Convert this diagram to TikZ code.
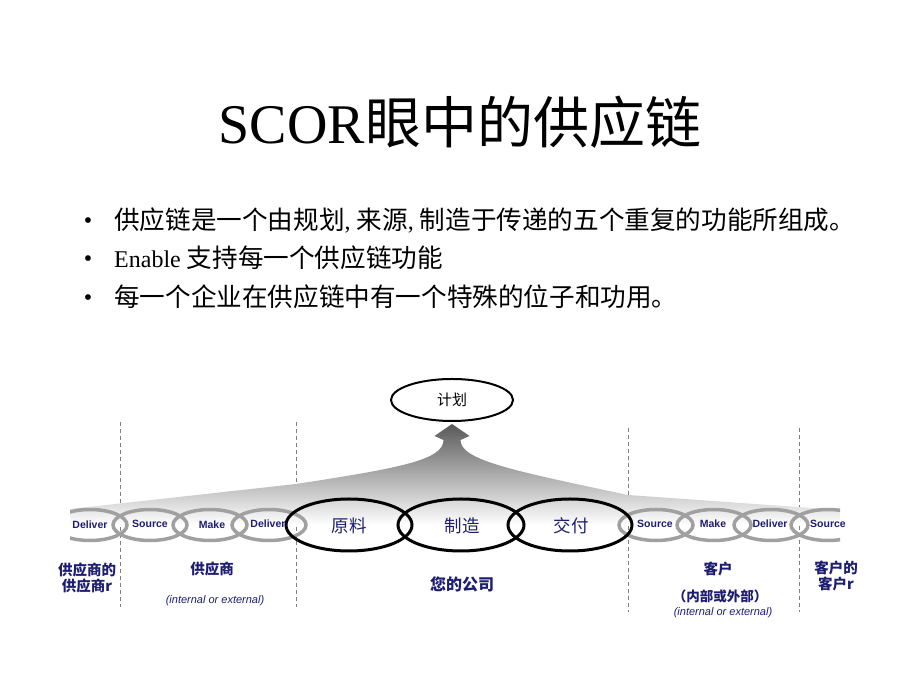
\documentclass[tikz,border=0pt]{standalone}
\usepackage{fontspec}
\setmainfont{Liberation Serif}
\setsansfont{Liberation Sans}
\newfontfamily\cjk{Noto Sans CJK SC}
\definecolor{scornavy}{RGB}{30,30,112}
\definecolor{linkgray}{RGB}{160,160,160}
\tikzset{
  bullettext/.style={anchor=west, inner sep=0pt, font=\fontsize{24}{26}\selectfont},
  bulletdot/.style={inner sep=0pt, font=\fontsize{24}{26}\selectfont},
  ringtext/.style={inner sep=0pt, text=scornavy, font=\sffamily\bfseries\fontsize{10.5}{12}\selectfont},
  coretext/.style={inner sep=0pt, text=scornavy, font=\cjk\fontsize{17.5}{20}\selectfont},
  partytext/.style={inner sep=0pt, align=center, text=scornavy, font=\cjk\bfseries\fontsize{14.5}{16.5}\selectfont},
  extnote/.style={inner sep=0pt, text=scornavy, font=\sffamily\itshape\fontsize{11}{13}\selectfont},
  graylink/.style={draw=linkgray, line width=3.5pt},
  corelink/.style={draw=black, line width=3pt},
  border/.style={draw=gray, line width=0.8pt, dash pattern=on 4pt off 3pt}
}
\newcommand\zh[1]{{\cjk\fontsize{25.6}{28}\selectfont #1}}
\begin{document}
\begin{tikzpicture}[x=1pt, y=1pt]
\useasboundingbox (0,0) rectangle (920,690);
\fill[white] (0,0) rectangle (920,690);

\node[inner sep=0pt, font=\fontsize{56}{62}\selectfont] (title) at (460,568) {SCOR{\cjk 眼中的供应链}};

\node[bulletdot] (dot1) at (88,467) {\textbullet};
\node[bulletdot] (dot2) at (88,429) {\textbullet};
\node[bulletdot] (dot3) at (88,390) {\textbullet};
\node[bullettext] (line1) at (114,470) {\zh{供应链是一个由规划}, \zh{来源}, \zh{制造于传递的五个重复的功能所组成。}};
\node[bullettext] (line2) at (114,432) {Enable \zh{支持每一个供应链功能}};
\node[bullettext] (line3) at (114,393) {\zh{每一个企业在供应链中有一个特殊的位子和功用。}};

\draw[line width=2pt] (452,290) ellipse (61 and 21);
\node[inner sep=0pt, font=\cjk\fontsize{15}{17}\selectfont] (plan) at (452,290) {计划};

\draw[border] (120,268) -- (120,83);
\draw[border] (296,268) -- (296,83);
\draw[border] (628,262) -- (628,78);
\draw[border] (799,262) -- (799,78);

\shade[top color=black!65, bottom color=white] (70,165) -- (70,181) -- (296,206)
  .. controls (400,222) and (443.5,230) .. (443.5,250) -- (434.5,254) -- (452,266) -- (469.5,254) -- (460.5,250)
  .. controls (460.5,230) and (510,220) .. (628,195) -- (840,180) -- (840,165) -- cycle;

\begin{scope}
\clip (70,140) rectangle (840,190);
\foreach \cx in {90,150,210,269,656,714,771,828}
  \draw[graylink] (\cx,165) ellipse (37 and 15.5);
\end{scope}
\draw[corelink] (349,165) ellipse (63 and 26);
\draw[corelink] (461,165) ellipse (63 and 26);
\draw[corelink] (570,165) ellipse (62 and 26);

\node[ringtext] (deliver0) at (90,165) {Deliver};
\node[ringtext] (source1) at (150,166) {Source};
\node[ringtext] (make1) at (212,165) {Make};
\node[ringtext] (deliver1) at (268,166) {Deliver};
\node[ringtext] (source2) at (655,166) {Source};
\node[ringtext] (make2) at (713,166) {Make};
\node[ringtext] (deliver2) at (770,166) {Deliver};
\node[ringtext] (source3) at (828,166) {Source};

\node[coretext] (raw) at (349,164) {原料};
\node[coretext] (produce) at (462,164) {制造};
\node[coretext] (deliver) at (571,164) {交付};

\node[partytext] (supsup) at (87,112) {供应商的\\供应商r};
\node[partytext] (supplier) at (212,121) {供应商};
\node[extnote] (supext) at (215,89) {(internal or external)};
\node[partytext, font=\cjk\bfseries\fontsize{16}{18}\selectfont] (company) at (462,106) {您的公司};
\node[partytext] (customer) at (718,121) {客户};
\node[partytext, font=\cjk\bfseries\fontsize{13.5}{15}\selectfont] (custint) at (720,94) {（内部或外部）};
\node[extnote] (custext) at (723,77) {(internal or external)};
\node[partytext] (custcust) at (836,114) {客户的\\客户r};
\end{tikzpicture}
\end{document}
